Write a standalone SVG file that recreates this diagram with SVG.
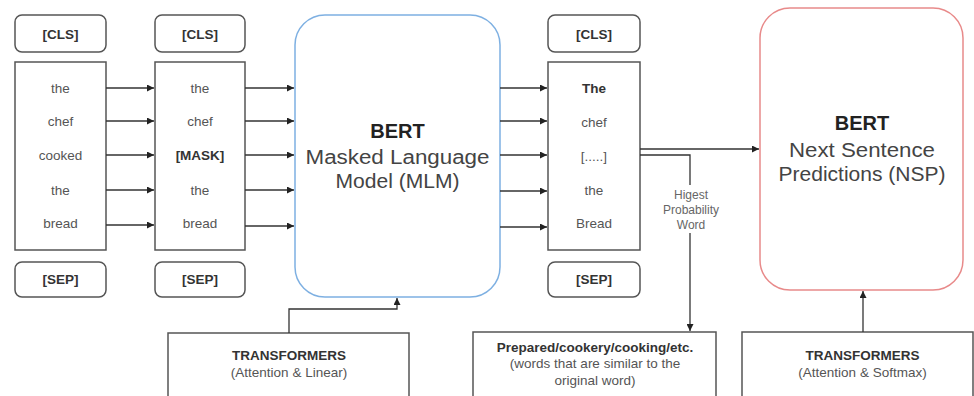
<svg xmlns="http://www.w3.org/2000/svg" width="974" height="396" viewBox="0 0 974 396">
  <defs>
    <marker id="arrow" viewBox="0 0 10 10" refX="10" refY="5" markerWidth="7" markerHeight="7" orient="auto" markerUnits="userSpaceOnUse">
      <path d="M0,0 L10,5 L0,10 z" fill="#222"/>
    </marker>
    <style>
      .tag { fill: #fff; stroke: #555; stroke-width: 1.5; }
      .col { fill: #fff; stroke: #555; stroke-width: 1.5; }
      .tagtxt { font-family: "Liberation Sans", Arial, sans-serif; font-size: 13.5px; font-weight: bold; fill: #333; text-anchor: middle; }
      .word { font-family: "Liberation Sans", Arial, sans-serif; font-size: 13.5px; fill: #555; text-anchor: middle; }
      .wordb { font-family: "Liberation Sans", Arial, sans-serif; font-size: 13.5px; font-weight: bold; fill: #333; text-anchor: middle; }
      .big { font-family: "Liberation Sans", Arial, sans-serif; font-size: 20px; fill: #444; text-anchor: middle; }
      .bigb { font-family: "Liberation Sans", Arial, sans-serif; font-size: 20px; font-weight: bold; fill: #222; text-anchor: middle; }
      .small { font-family: "Liberation Sans", Arial, sans-serif; font-size: 13.5px; fill: #555; text-anchor: middle; }
      .smallb { font-family: "Liberation Sans", Arial, sans-serif; font-size: 13.5px; font-weight: bold; fill: #333; text-anchor: middle; }
      .lbl { font-family: "Liberation Sans", Arial, sans-serif; font-size: 12px; fill: #666; text-anchor: middle; }
      .conn { fill: none; stroke: #333; stroke-width: 1.3; }
      .box { fill: #fff; stroke: #555; stroke-width: 1.5; }
    </style>
  </defs>

  <rect width="974" height="396" fill="#fff"/>

  <!-- input sentence -->
  <g id="input-tokens">
    <rect class="tag" x="15" y="15" width="91" height="37" rx="7"/>
    <text class="tagtxt" x="60.5" y="38.5">[CLS]</text>
    <rect class="col" x="15" y="62" width="91" height="188"/>
    <text class="word" x="60.5" y="93">the</text>
    <text class="word" x="60.5" y="126">chef</text>
    <text class="word" x="60.5" y="160">cooked</text>
    <text class="word" x="60.5" y="195">the</text>
    <text class="word" x="60.5" y="228">bread</text>
    <rect class="tag" x="15" y="262" width="91" height="35" rx="7"/>
    <text class="tagtxt" x="60.5" y="284">[SEP]</text>
  </g>

  <!-- masked sentence -->
  <g id="masked-tokens">
    <rect class="tag" x="155" y="15" width="90" height="37" rx="7"/>
    <text class="tagtxt" x="200" y="38.5">[CLS]</text>
    <rect class="col" x="155" y="62" width="90" height="188"/>
    <text class="word" x="200" y="93">the</text>
    <text class="word" x="200" y="126">chef</text>
    <text class="wordb" x="200" y="160">[MASK]</text>
    <text class="word" x="200" y="195">the</text>
    <text class="word" x="200" y="228">bread</text>
    <rect class="tag" x="155" y="262" width="90" height="35" rx="7"/>
    <text class="tagtxt" x="200" y="284">[SEP]</text>
  </g>

  <!-- BERT masked language model -->
  <g id="bert-mlm">
    <rect x="295" y="15" width="205" height="282" rx="30" fill="#fff" stroke="#7eb0e2" stroke-width="1.5"/>
    <text class="bigb" x="397.5" y="138">BERT</text>
    <text class="big" x="397.5" y="164" textLength="184" lengthAdjust="spacingAndGlyphs">Masked Language</text>
    <text class="big" x="397.5" y="188" textLength="124" lengthAdjust="spacingAndGlyphs">Model (MLM)</text>
  </g>

  <!-- predicted sentence -->
  <g id="output-tokens">
    <rect class="tag" x="548" y="15" width="92" height="37" rx="7"/>
    <text class="tagtxt" x="594" y="38.5">[CLS]</text>
    <rect class="col" x="548" y="62" width="92" height="188"/>
    <text class="wordb" x="594" y="93">The</text>
    <text class="word" x="594" y="127">chef</text>
    <text class="word" x="594" y="161">[.....]</text>
    <text class="word" x="594" y="195">the</text>
    <text class="word" x="594" y="228">Bread</text>
    <rect class="tag" x="548" y="262" width="92" height="35" rx="7"/>
    <text class="tagtxt" x="594" y="284">[SEP]</text>
  </g>

  <!-- BERT next sentence prediction -->
  <g id="bert-nsp">
    <rect x="760" y="8" width="203" height="282" rx="30" fill="#fff" stroke="#e88a8a" stroke-width="1.5"/>
    <text class="bigb" x="862" y="130">BERT</text>
    <text class="big" x="862" y="157" textLength="146" lengthAdjust="spacingAndGlyphs">Next Sentence</text>
    <text class="big" x="862" y="181" textLength="167" lengthAdjust="spacingAndGlyphs">Predictions (NSP)</text>
  </g>

  <!-- transformer blocks and candidate words -->
  <g id="transformers-linear">
    <rect class="box" x="168" y="333" width="241" height="64"/>
    <text class="smallb" x="289" y="360">TRANSFORMERS</text>
    <text class="small" x="289" y="377">(Attention &amp; Linear)</text>
  </g>

  <g id="candidates">
    <rect class="box" x="473" y="332" width="243" height="65"/>
    <text class="smallb" x="595" y="352">Prepared/cookery/cooking/etc.</text>
    <text class="small" x="595" y="368">(words that are similar to the</text>
    <text class="small" x="595" y="385">original word)</text>
  </g>

  <g id="transformers-softmax">
    <rect class="box" x="742" y="332" width="231" height="65"/>
    <text class="smallb" x="862.5" y="360">TRANSFORMERS</text>
    <text class="small" x="862.5" y="377">(Attention &amp; Softmax)</text>
  </g>

  <!-- connectors -->
  <g id="connectors">
    <line class="conn" x1="106" y1="88" x2="154" y2="88" marker-end="url(#arrow)"/>
    <line class="conn" x1="106" y1="121" x2="154" y2="121" marker-end="url(#arrow)"/>
    <line class="conn" x1="106" y1="155" x2="154" y2="155" marker-end="url(#arrow)"/>
    <line class="conn" x1="106" y1="190" x2="154" y2="190" marker-end="url(#arrow)"/>
    <line class="conn" x1="106" y1="225" x2="154" y2="225" marker-end="url(#arrow)"/>

    <line class="conn" x1="245" y1="88" x2="294" y2="88" marker-end="url(#arrow)"/>
    <line class="conn" x1="245" y1="121" x2="294" y2="121" marker-end="url(#arrow)"/>
    <line class="conn" x1="245" y1="155" x2="294" y2="155" marker-end="url(#arrow)"/>
    <line class="conn" x1="245" y1="190" x2="294" y2="190" marker-end="url(#arrow)"/>
    <line class="conn" x1="245" y1="226" x2="294" y2="226" marker-end="url(#arrow)"/>

    <line class="conn" x1="500" y1="88" x2="547" y2="88" marker-end="url(#arrow)"/>
    <line class="conn" x1="500" y1="121" x2="547" y2="121" marker-end="url(#arrow)"/>
    <line class="conn" x1="500" y1="155" x2="547" y2="155" marker-end="url(#arrow)"/>
    <line class="conn" x1="500" y1="191" x2="547" y2="191" marker-end="url(#arrow)"/>
    <line class="conn" x1="500" y1="227" x2="547" y2="227" marker-end="url(#arrow)"/>

    <line class="conn" x1="640" y1="149" x2="759" y2="149" marker-end="url(#arrow)"/>
    <polyline class="conn" points="640,155 690,155 690,185"/>
    <line class="conn" x1="690" y1="233" x2="690" y2="331" marker-end="url(#arrow)"/>
    <text class="lbl" x="691" y="199">Higest</text>
    <text class="lbl" x="691" y="214">Probability</text>
    <text class="lbl" x="691" y="229">Word</text>

    <polyline class="conn" points="289,333 289,309 397,309 397,298" marker-end="url(#arrow)"/>
    <line class="conn" x1="863" y1="332" x2="863" y2="291" marker-end="url(#arrow)"/>
  </g>
</svg>
